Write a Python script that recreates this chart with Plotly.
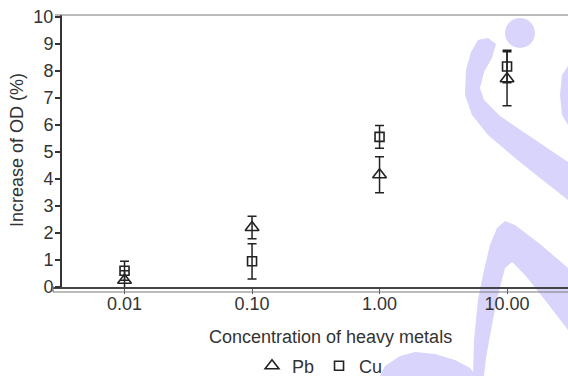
import plotly.graph_objects as go

# ---- data ----
concentration = [0.01, 0.1, 1.0, 10.0]
tick_labels = ["0.01", "0.10", "1.00", "10.00"]
pb_values = [0.25, 2.2, 4.15, 7.7]
pb_errors = [0.35, 0.42, 0.67, 1.0]
cu_values = [0.6, 0.95, 5.55, 8.15]
cu_errors = [0.35, 0.65, 0.42, 0.6]
y_ticks = list(range(0, 11))

# ---- layout geometry (pixels) ----
W, H = 568, 376
L, R, T, B = 53, 0, 15, 89
PW, PH = W - L - R, H - T - B

def X(px):
    return (px - L) / PW

def Y(py):
    return (H - B - py) / PH

FONT = "Liberation Sans, Arial, sans-serif"
TXT = "#333333"
INK = "#222222"

fig = go.Figure()
fig.add_trace(go.Scatter(
    x=concentration, y=pb_values, name="Pb", mode="markers",
    marker=dict(symbol="triangle-up-open", size=12, color=INK, line=dict(width=1.6, color=INK)),
    error_y=dict(type="data", array=pb_errors, color=INK, thickness=1.5, width=4.5),
    cliponaxis=False,
))
fig.add_trace(go.Scatter(
    x=concentration, y=cu_values, name="Cu", mode="markers",
    marker=dict(symbol="square-open", size=9, color=INK, line=dict(width=1.6, color=INK)),
    error_y=dict(type="data", array=cu_errors, color=INK, thickness=1.5, width=4.5),
    cliponaxis=False,
))

# watermark-like decoration (purple bands)
WM = "#d9d4fb"
def path(points):
    return "M " + " L ".join(f"{X(a):.4f},{Y(b):.4f}" for a, b in points) + " Z"

shapes = []
s_band = [(478, 40), (488, 38), (496, 44), (492, 58), (484, 72), (480, 88), (484, 100),
          (500, 116), (525, 133), (568, 162), (568, 200), (540, 178), (515, 158),
          (488, 135), (472, 115), (465, 95), (466, 70), (471, 52)]
arch = [(473, 376), (474, 340), (478, 300), (484, 270), (490, 245), (497, 228), (505, 221),
        (515, 225), (540, 244), (568, 268), (568, 330), (545, 300), (525, 275),
        (512, 262), (505, 268), (498, 295), (492, 325), (486, 358), (484, 376)]
dome = [(380, 376), (385, 366), (400, 356), (415, 352), (435, 354), (455, 360), (470, 368), (476, 376)]
sliver = [(568, 66), (562, 75), (560, 95), (562, 115), (568, 125)]
for poly in (s_band, arch, dome, sliver):
    shapes.append(dict(type="path", path=path(poly), xref="paper", yref="paper",
                       fillcolor=WM, line=dict(width=0), layer="below"))
shapes.append(dict(type="circle", xref="paper", yref="paper",
                   x0=X(505), x1=X(535), y0=Y(48), y1=Y(18),
                   fillcolor=WM, line=dict(width=0), layer="below"))
# frame lines
shapes.append(dict(type="line", xref="paper", yref="paper", x0=0, x1=1, y0=Y(292), y1=Y(292),
                   line=dict(color="#7a7a7a", width=1.2)))
shapes.append(dict(type="line", xref="paper", yref="paper", x0=0, x1=0, y0=Y(292), y1=Y(286),
                   line=dict(color="#7a7a7a", width=1.2)))
shapes.append(dict(type="line", xref="paper", yref="paper", x0=X(55), x1=1, y0=1, y1=1,
                   line=dict(color="#7a7a7a", width=1.2)))

fig.update_layout(
    width=W, height=H,
    margin=dict(l=L, r=R, t=T, b=B, pad=0),
    paper_bgcolor="white", plot_bgcolor="rgba(0,0,0,0)",
    font=dict(family=FONT, size=18, color=TXT),
    shapes=shapes,
    showlegend=True,
    legend=dict(orientation="h", xref="container", yref="container",
                x=252 / W, xanchor="left", y=1 - 366 / H, yanchor="middle",
                font=dict(size=18, color=TXT), itemwidth=30, bgcolor="rgba(0,0,0,0)"),
    annotations=[
        dict(text="Concentration of heavy metals", xref="paper", yref="paper",
             x=X(330), y=Y(337), xanchor="center", yanchor="middle",
             showarrow=False, font=dict(size=18, color=TXT)),
        dict(text="Increase of OD (%)", xref="paper", yref="paper", textangle=-90,
             x=X(17), y=Y(150), xanchor="center", yanchor="middle",
             showarrow=False, font=dict(size=18, color=TXT)),
    ],
)
fig.update_xaxes(
    type="log", range=[-2.561, 1.478],
    tickvals=concentration, ticktext=tick_labels,
    showline=True, linecolor="#444444", linewidth=2,
    ticks="outside", ticklen=5, tickwidth=1.2, tickcolor="#555555",
    ticklabelstandoff=-6,
    showgrid=False, zeroline=False, tickfont=dict(size=18, color=TXT),
)
fig.update_yaxes(
    range=[0, 10.056], tickvals=y_ticks,
    anchor="free", position=X(61),
    showline=True, linecolor="#333333", linewidth=2,
    ticks="outside", ticklen=5, tickwidth=1.5, tickcolor="#333333",
    ticklabelstandoff=-2,
    showgrid=False, zeroline=False, tickfont=dict(size=18, color=TXT),
)

fig.write_html("out.html", config={"displayModeBar": False},
               post_script="document.body.style.margin='0';")
